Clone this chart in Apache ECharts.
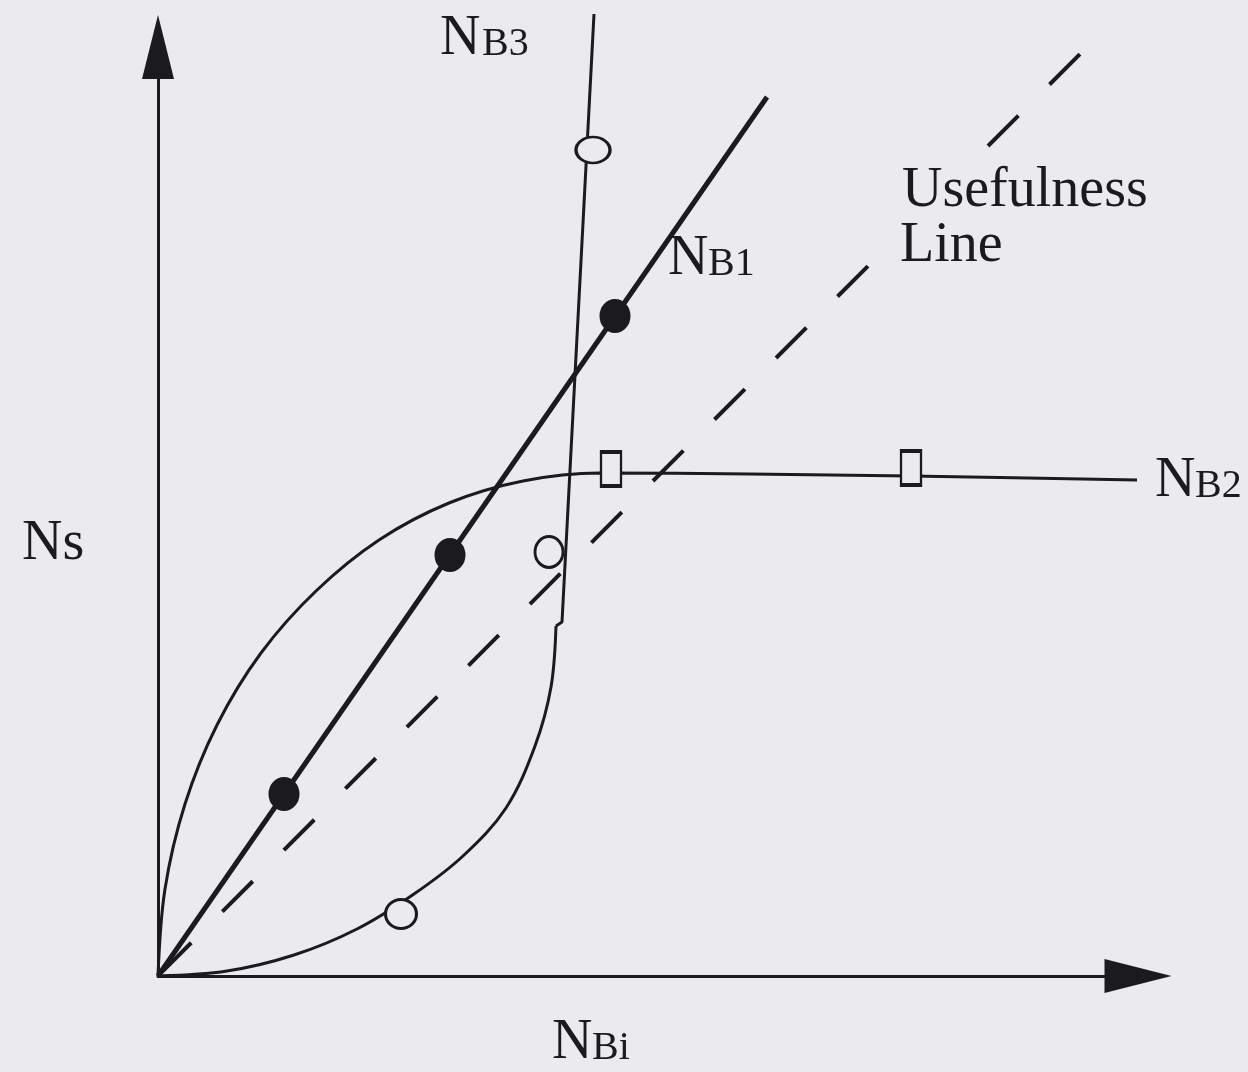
<!DOCTYPE html>
<html>
<head>
<meta charset="utf-8">
<script src="https://cdn.jsdelivr.net/npm/echarts@6/dist/echarts.min.js"></script>
<style>
  html, body { margin: 0; padding: 0; background: #ebeaee; }
  #chart { width: 1248px; height: 1072px; }
</style>
</head>
<body>
<div id="chart"></div>
<script>
// Axis ranges (arbitrary units, both axes start at the origin)
const xRange = [0, 98];
const yRange = [0, 92.9];

// NB1: straight line through the origin with filled measurement points
const nb1Line = [[0, 0], [60.9, 87.9]];
const nb1Points = [[12.6, 18.2], [29.2, 42.1], [45.7, 66.0]];

// NB2: rises steeply, then levels off
const nb2Curve = [
  [0, 0], [0.7, 8.7], [2.7, 17.2], [5.9, 25.1], [10.3, 32.3], [15.8, 38.5],
  [22.1, 43.6], [29.1, 47.3], [36.5, 49.5], [44.2, 50.3], [59.2, 50.2],
  [75.3, 50.0], [97.9, 49.6]
];
const nb2Points = [[45.3, 50.7], [75.3, 50.8]];

// NB3: slow start, then a near-vertical rise
const nb3Curve = [
  [0, 0], [6.9, 0.5], [13.6, 2.1], [19.9, 4.7], [25.6, 8.2], [30.5, 12.0],
  [34.8, 16.8], [37.7, 23.0], [39.3, 28.9], [39.8, 35.0]
];
const nb3Rise = [[39.8, 35.0], [40.4, 35.4], [43.6, 96.2]];
const nb3Points = [[24.3, 6.2], [39.1, 42.4], [43.5, 82.6]];
const nb3PointSizes = [[31, 29], [28, 31], [34, 26]];

// Usefulness line (NBi equal to Ns), broken around its label
const usefulnessLower = [[0, 0], [71.0, 71.0]];
const usefulnessUpper = [[83.0, 83.0], [92.4, 92.4]];

const ink = '#1b1b1e';
const paper = '#ebeaee';
const serif = '"Liberation Serif", "DejaVu Serif", serif';

const chart = echarts.init(document.getElementById('chart'), null, { renderer: 'canvas' });

// Label pieces: a large "N" followed by smaller capitals, placed by baseline
function label(big, small, x, baseline, smallX) {
  const items = [{
    type: 'text', x: x, y: baseline - 0.3375 * 56,
    style: { text: big, font: '56px ' + serif, fill: ink, align: 'left', verticalAlign: 'middle' }
  }];
  if (small) {
    items.push({
      type: 'text', x: smallX, y: baseline - 0.3375 * 40,
      style: { text: small, font: '40px ' + serif, fill: ink, align: 'left', verticalAlign: 'middle' }
    });
  }
  return items;
}

const graphics = [].concat(
  label('N', 'B3', 440, 58, 482),
  label('N', 'B1', 668, 278, 708),
  label('N', 'B2', 1155, 500, 1195),
  label('N', 'Bi', 552, 1062, 592),
  label('Ns', null, 22, 563),
  [{
    type: 'text', x: 902, y: 210 - 0.3375 * 56,
    style: { text: 'Usefulness', font: '56px ' + serif, fill: ink, align: 'left', verticalAlign: 'middle' }
  }, {
    type: 'text', x: 900, y: 265 - 0.3375 * 56,
    style: { text: 'Line', font: '56px ' + serif, fill: ink, align: 'left', verticalAlign: 'middle' }
  }]
);

const dashed = { color: ink, width: 4, type: [43, 44] };

const option = {
  backgroundColor: paper,
  animation: false,
  grid: { left: 158, right: 110, top: 47, bottom: 96, containLabel: false },
  xAxis: {
    type: 'value', min: xRange[0], max: xRange[1],
    splitLine: { show: false }, axisTick: { show: false }, axisLabel: { show: false },
    axisLine: {
      show: true, onZero: false,
      lineStyle: { color: ink, width: 3 },
      symbol: ['none', 'triangle'], symbolSize: [34, 67]
    }
  },
  yAxis: {
    type: 'value', min: yRange[0], max: yRange[1],
    splitLine: { show: false }, axisTick: { show: false }, axisLabel: { show: false },
    axisLine: {
      show: true, onZero: false,
      lineStyle: { color: ink, width: 3 },
      symbol: ['none', 'triangle'], symbolSize: [32, 64]
    }
  },
  graphic: graphics,
  series: [
    {
      name: 'Usefulness Line', type: 'line', data: usefulnessLower, clip: false,
      symbol: 'none', lineStyle: Object.assign({ dashOffset: -4 }, dashed), z: 2
    },
    {
      name: 'Usefulness Line (upper)', type: 'line', data: usefulnessUpper, clip: false,
      symbol: 'none', lineStyle: dashed, z: 2
    },
    {
      name: 'NB2', type: 'line', data: nb2Curve, clip: false, smooth: 0.35,
      symbol: 'none', lineStyle: { color: ink, width: 3 }, z: 3
    },
    {
      name: 'NB3', type: 'line', data: nb3Curve, clip: false, smooth: 0.35,
      symbol: 'none', lineStyle: { color: ink, width: 3 }, z: 3
    },
    {
      name: 'NB3 rise', type: 'line', data: nb3Rise, clip: false,
      symbol: 'none', lineStyle: { color: ink, width: 3 }, z: 3
    },
    {
      name: 'NB1', type: 'line', data: nb1Line, clip: false,
      symbol: 'none', lineStyle: { color: ink, width: 5 }, z: 4
    },
    {
      name: 'NB1 points', type: 'scatter', data: nb1Points, clip: false,
      symbol: 'circle', symbolSize: [31, 34],
      itemStyle: { color: ink, opacity: 1 }, z: 5
    },
    {
      name: 'NB2 points', type: 'scatter', data: nb2Points, clip: false,
      symbol: 'rect', symbolSize: [20, 34],
      itemStyle: { color: paper, borderColor: ink, borderWidth: 3, opacity: 1 }, z: 5
    },
    {
      name: 'NB3 points', type: 'scatter', clip: false,
      data: nb3Points.map((p, i) => ({ value: p, symbolSize: nb3PointSizes[i] })),
      symbol: 'circle',
      itemStyle: { color: paper, borderColor: ink, borderWidth: 3, opacity: 1 }, z: 5
    }
  ]
};

chart.setOption(option);
</script>
</body>
</html>
